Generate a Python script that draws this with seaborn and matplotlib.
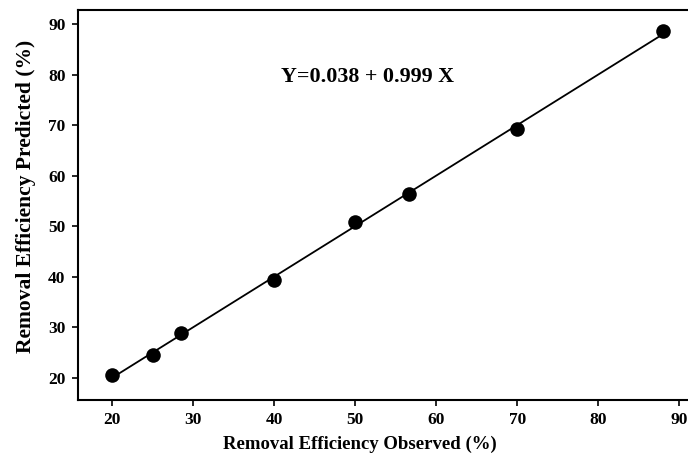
import pandas as pd
import matplotlib
matplotlib.use("Agg")
import matplotlib.pyplot as plt
import seaborn as sns

observed = [20.0, 25.0, 28.5, 40.0, 50.0, 56.7, 70.0, 88.0]
predicted = [20.5, 24.5, 29.0, 39.4, 50.8, 56.4, 69.3, 88.6]
equation = "Y=0.038 + 0.999 X"

sns.set_style("white", {"text.color": "black", "axes.labelcolor": "black",
                        "xtick.color": "black", "ytick.color": "black",
                        "axes.edgecolor": "black"})
plt.rcParams['font.family'] = ['Liberation Serif', 'DejaVu Serif']
plt.rcParams['font.weight'] = 'bold'

df = pd.DataFrame({"observed": observed, "predicted": predicted})

fig = plt.figure(figsize=(6.88, 4.59), dpi=100)
ax = fig.add_axes([78 / 688, 1 - 399.5 / 459, 620 / 688, 389.5 / 459])

sns.regplot(data=df, x="observed", y="predicted", ci=None, truncate=True, ax=ax,
            scatter_kws={"s": 110, "color": "black", "alpha": 1, "linewidths": 0},
            line_kws={"color": "black", "linewidth": 1.3})

ax.set_xlim(15.8, 92.3)
ax.set_ylim(15.75, 92.8)
ax.set_xticks(range(20, 100, 10))
ax.set_yticks(range(20, 100, 10))
ax.tick_params(axis="both", direction="out", length=4, width=1.2, labelsize=12.5,
               bottom=True, left=True, pad=5, colors="black")
for lab in ax.get_xticklabels() + ax.get_yticklabels():
    lab.set_fontweight("bold")
for s in ax.spines.values():
    s.set_color("black")
    s.set_linewidth(1.5)

ax.set_xlabel("Removal Efficiency Observed (%)", fontsize=13.5, fontweight="bold", color="black")
ax.set_ylabel("Removal Efficiency Predicted (%)", fontsize=15.5, fontweight="bold", color="black")
ax.xaxis.set_label_coords(0.455, -0.092)
ax.yaxis.set_label_coords(-0.068, 0.522)
ax.text(40.9, 79.6, equation, fontsize=15.8, fontweight="bold", va="center", ha="left", color="black")

fig.savefig("out.png", dpi=100)
